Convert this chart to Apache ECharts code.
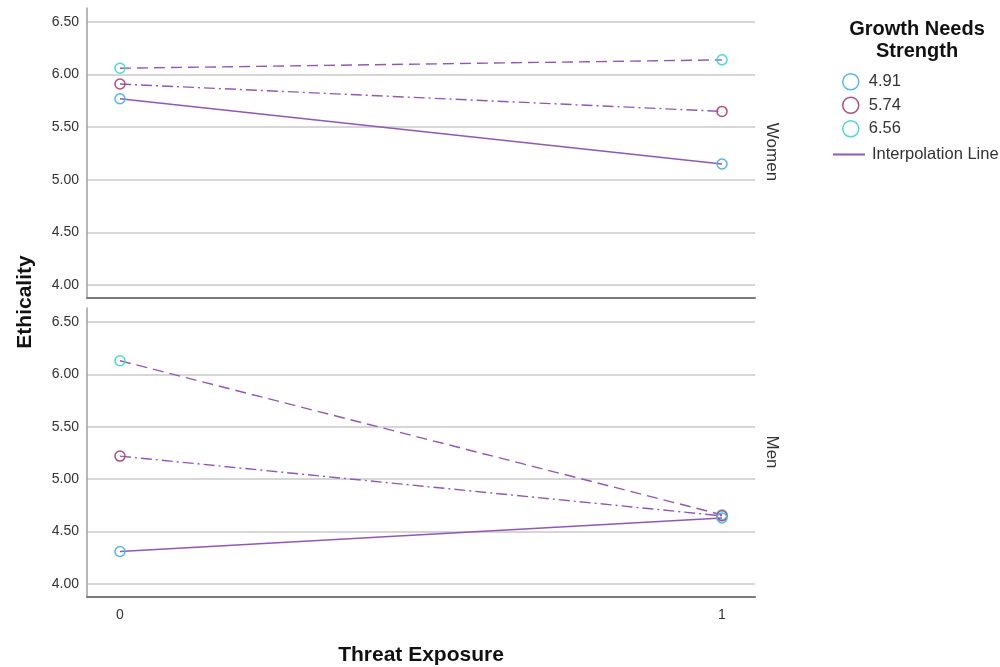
<!DOCTYPE html>
<html>
<head>
<meta charset="utf-8">
<script src="https://cdn.jsdelivr.net/npm/echarts@6/dist/echarts.min.js"></script>
<style>
  html, body { margin: 0; padding: 0; background: #fff; }
  #chart { width: 1000px; height: 667px; }
</style>
</head>
<body>
<div id="chart"></div>
<script>
// threat exposure levels (x) and growth needs strength groups
const exposure = [0, 1]
const groups = ['4.91', '5.74', '6.56']
const yTicks = [4.0, 4.5, 5.0, 5.5, 6.0, 6.5]

// ethicality, women panel
const womenLow = [5.77, 5.15]
const womenMid = [5.91, 5.65]
const womenHigh = [6.06, 6.14]

// ethicality, men panel
const menLow = [4.31, 4.63]
const menMid = [5.22, 4.65]
const menHigh = [6.13, 4.66]

const markerColors = ['#55b4ec', '#b24f7c', '#4dd6d8']
const dashes = ['solid', [11, 4, 2, 4], [11, 6]]
const lineColor = '#9157b6'
const font = 'Liberation Sans, Arial, sans-serif'

const chart = echarts.init(document.getElementById('chart'))
window.addEventListener('resize', chart.resize)

function makeY(gridIndex) {
  return {
    type: 'value',
    gridIndex: gridIndex,
    min: 3.876,
    max: 6.633,
    axisLine: { show: true, onZero: false, lineStyle: { color: '#a0a0a0', width: 1.5 } },
    axisTick: { show: false, customValues: yTicks },
    axisLabel: {
      customValues: yTicks,
      formatter: v => v.toFixed(2),
      fontFamily: font, fontSize: 14, color: '#333', margin: 8
    },
    splitLine: { show: true, lineStyle: { color: '#c8c8c8', width: 1.5 } }
  }
}

function makeX(gridIndex, showLabels) {
  return {
    type: 'value',
    gridIndex: gridIndex,
    min: -0.0548,
    max: 1.0548,
    axisLine: { show: true, onZero: false, lineStyle: { color: '#7a7a7a', width: 2 } },
    axisTick: { show: false, customValues: exposure },
    splitLine: { show: false },
    axisLabel: {
      show: showLabels,
      customValues: exposure,
      fontFamily: font, fontSize: 14, color: '#333', margin: 11
    },
    name: showLabels ? 'Threat Exposure' : '',
    nameLocation: 'middle',
    nameGap: 48,
    nameTextStyle: { fontFamily: font, fontSize: 21, fontWeight: 'bold', color: '#111' }
  }
}

function makeSeries(name, values, idx, gridIndex) {
  return {
    name: name,
    type: 'line',
    xAxisIndex: gridIndex,
    yAxisIndex: gridIndex,
    data: exposure.map((x, i) => [x, values[i]]),
    symbol: 'circle',
    symbolSize: 10,
    itemStyle: { color: 'rgba(255,255,255,0)', borderColor: markerColors[idx], borderWidth: 1.5 },
    lineStyle: { color: lineColor, width: 1.4, type: dashes[idx] },
    z: 3 - idx,
    animation: false
  }
}

const women = [womenLow, womenMid, womenHigh]
const men = [menLow, menMid, menHigh]

const series = []
groups.forEach((g, i) => series.push(makeSeries(g, women[i], i, 0)))
groups.forEach((g, i) => series.push(makeSeries(g, men[i], i, 1)))
series.push({
  name: 'Interpolation Line',
  type: 'line',
  data: [],
  symbol: 'none',
  itemStyle: { color: lineColor },
  lineStyle: { color: lineColor, width: 1.5 }
})

const option = {
  backgroundColor: '#fff',
  animation: false,
  grid: [
    { left: 87, right: 245, top: 8, height: 290 },
    { left: 87, right: 245, top: 308, height: 289 }
  ],
  xAxis: [makeX(0, false), makeX(1, true)],
  yAxis: [makeY(0), makeY(1)],
  legend: [
    {
      orient: 'vertical',
      left: 842,
      top: 73,
      padding: 0,
      itemWidth: 16,
      itemHeight: 16,
      itemGap: 6,
      lineStyle: { opacity: 0 },
      textStyle: { fontFamily: font, fontSize: 16.5, color: '#333', padding: [0, 0, 0, 5] },
      data: groups.map((g, i) => ({
        name: g,
        icon: 'circle',
        itemStyle: { color: 'rgba(0,0,0,0)', borderColor: markerColors[i], borderWidth: 1.5 }
      }))
    },
    {
      left: 833,
      top: 146,
      padding: 0,
      itemWidth: 32,
      itemHeight: 2,
      icon: 'rect',
      textStyle: { fontFamily: font, fontSize: 16.5, color: '#333', padding: [0, 0, 0, 2] },
      data: [{
        name: 'Interpolation Line',
        itemStyle: { color: lineColor },
        lineStyle: { color: lineColor, width: 1.5 }
      }]
    }
  ],
  graphic: [
    {
      type: 'text', x: 917, y: 18,
      style: {
        text: 'Growth Needs\nStrength', textAlign: 'center',
        font: 'bold 20px ' + font, fill: '#111', lineHeight: 22
      }
    },
    {
      type: 'text', x: 25, y: 302, rotation: Math.PI / 2,
      style: {
        text: 'Ethicality', textAlign: 'center', textVerticalAlign: 'middle',
        font: 'bold 21px ' + font, fill: '#111'
      }
    },
    {
      type: 'text', x: 772, y: 152, rotation: -Math.PI / 2,
      style: {
        text: 'Women', textAlign: 'center', textVerticalAlign: 'middle',
        font: '17px ' + font, fill: '#333'
      }
    },
    {
      type: 'text', x: 772, y: 452, rotation: -Math.PI / 2,
      style: {
        text: 'Men', textAlign: 'center', textVerticalAlign: 'middle',
        font: '17px ' + font, fill: '#333'
      }
    }
  ],
  series: series
}

chart.setOption(option)
</script>
</body>
</html>
